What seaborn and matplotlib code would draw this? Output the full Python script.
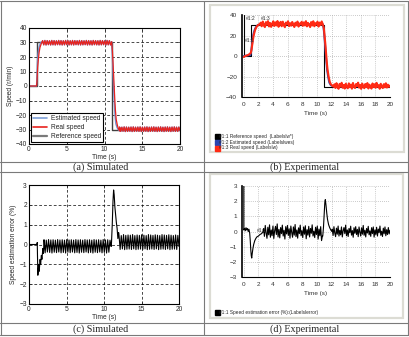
import numpy as np
import matplotlib.pyplot as plt
from matplotlib.lines import Line2D
import seaborn as sns

sns.set_style("white")
plt.rcParams['font.family'] = ['Liberation Sans', 'DejaVu Sans']

W, H = 409, 337

# ---------------- data ----------------
sim_xticks = [0, 5, 10, 15, 20]
sim_speed_ticks = [-40, -30, -20, -10, 0, 10, 20, 30, 40]
sim_err_ticks = [-3, -2, -1, 0, 1, 2, 3]
exp_xticks = [0, 2, 4, 6, 8, 10, 12, 14, 16, 18, 20]
exp_speed_ticks = [-40, -20, 0, 20, 40]
exp_err_ticks = [-3, -2, -1, 0, 1, 2, 3]

# (a) simulated speed
ref_sim_t = [0, 1, 1, 11, 11, 20]
ref_sim_v = [0, 0, 30, 30, -30, -30]
real_sim_rise_t = [0, 1.0, 1.05, 1.15, 1.25, 1.35, 1.45, 1.55, 1.65, 1.8]
real_sim_rise_v = [0, 0, 3, 13, 19, 23.5, 26.5, 28, 29.5, 31]
est_sim_rise_t = [0, 1.0, 1.04, 1.12, 1.2, 1.3, 1.4, 1.5, 1.62, 1.8]
est_sim_rise_v = [0, 0, 6, 16, 22, 26, 28, 29.3, 30.2, 31]
sim_ripple_top = [31.2, 28.4, 31.4, 28.3, 31.3, 28.5, 31.2, 28.3, 31.4, 28.4,
                  31.3, 28.3, 31.2, 28.5, 31.4, 28.4, 31.3, 28.3, 31.2, 28.4,
                  31.4, 28.5, 31.3, 28.3, 31.2, 28.4, 31.4, 28.3, 31.3, 28.5,
                  31.2, 28.4, 31.4, 28.3, 31.3, 28.4, 31.2, 28.5, 31.4, 28.3,
                  31.3, 28.4, 31.2, 28.3, 31.4, 28.5, 31.3, 28.4, 31.2, 28.3,
                  31.4, 28.4, 31.3, 28.5, 31.2, 28.3, 31.4, 28.4, 31.3, 28.3, 30.5]
real_sim_fall_t = [10.95, 11.05, 11.15, 11.25, 11.35, 11.45, 11.55, 11.7, 11.85, 12.0]
real_sim_fall_v = [30, 24, 14, 3, -8, -17, -23, -27, -29.5, -31]
est_sim_fall_t = [10.95, 11.03, 11.12, 11.2, 11.3, 11.4, 11.5, 11.65, 11.8, 12.0]
est_sim_fall_v = [30, 22, 10, 0, -12, -21, -26, -28.5, -30, -31]
sim_ripple_bot = [-28.3, -31.3, -28.4, -31.2, -28.2, -31.4, -28.3, -31.3, -28.4, -31.2,
                  -28.3, -31.4, -28.2, -31.3, -28.4, -31.2, -28.3, -31.3, -28.2, -31.4,
                  -28.4, -31.3, -28.3, -31.2, -28.2, -31.4, -28.4, -31.3, -28.3, -31.2,
                  -28.2, -31.3, -28.4, -31.4, -28.3, -31.2, -28.2, -31.3, -28.4, -31.4,
                  -28.3, -31.2, -28.2, -31.3, -28.4, -31.4, -28.3, -31.2, -28.2, -31.3,
                  -28.4, -31.3, -28.3, -30.8]

# (c) simulated estimation error
err_sim_start_t = [0, 1.05, 1.1, 1.18, 1.3, 1.36, 1.48, 1.55, 1.65, 1.72, 1.85, 1.92, 2.0]
err_sim_start_v = [0, 0, 0.1, -1.55, -1.0, -1.35, -0.75, -1.0, -0.55, -0.75, -0.2, -0.45, 0.1]
err_sim_ripple1 = [0.24, -0.42, 0.22, -0.38, 0.25, -0.4, 0.23, -0.43, 0.24, -0.39,
                   0.22, -0.41, 0.25, -0.38, 0.23, -0.42, 0.24, -0.4, 0.22, -0.43,
                   0.25, -0.39, 0.23, -0.41, 0.24, -0.38, 0.22, -0.42, 0.25, -0.4,
                   0.23, -0.43, 0.24, -0.39, 0.22, -0.41, 0.25, -0.38, 0.23, -0.42,
                   0.24, -0.4, 0.22, -0.43, 0.25, -0.39, 0.23, -0.41, 0.24, -0.38,
                   0.22, -0.42, 0.25, -0.4, 0.23, -0.43, 0.24, -0.39, 0.22, -0.1]
err_sim_peak_t = [11.0, 11.1, 11.2, 11.28, 11.36, 11.45, 11.55, 11.65, 11.75, 11.85, 11.95]
err_sim_peak_v = [0.1, 1.0, 2.2, 2.75, 2.5, 1.9, 1.5, 1.1, 0.8, 0.3, 0.6]
err_sim_ripple2 = [0.48, -0.25, 0.45, -0.22, 0.5, -0.26, 0.46, -0.24, 0.48, -0.23,
                   0.47, -0.25, 0.5, -0.22, 0.45, -0.26, 0.48, -0.24, 0.46, -0.23,
                   0.49, -0.25, 0.47, -0.22, 0.45, -0.26, 0.5, -0.24, 0.48, -0.23,
                   0.46, -0.25, 0.49, -0.22, 0.47, -0.26, 0.45, -0.24, 0.5, -0.23,
                   0.48, -0.25, 0.46, -0.22, 0.49, -0.26, 0.47, -0.24, 0.45, -0.23,
                   0.48, -0.25, 0.46, -0.1]

# (b) experimental speed
ref_exp_t = [0, 0, 1, 1, 11, 11, 20]
ref_exp_v = [40, 0, 0, 30, 30, -30, -30]
real_exp_rise_t = [0, 0.2, 0.4, 0.6, 0.8, 0.95, 1.05, 1.15, 1.25, 1.35, 1.45, 1.55, 1.7, 1.85, 2.0, 2.2]
real_exp_rise_v = [-1, 0, 0.5, 1, 2, 3, 6, 11, 16, 20, 23, 25.5, 28, 29.5, 30.5, 31]
real_exp_top = [32.5, 29.0, 33.6, 30.0, 28.2, 33.0, 30.5, 34.0, 28.8, 32.2,
                28.4, 31.6, 33.8, 29.3, 32.8, 29.9, 34.1, 28.5, 31.4, 33.3,
                29.0, 33.5, 30.2, 28.1, 32.6, 30.9, 33.9, 29.1, 32.0, 29.6,
                33.2, 30.6, 28.3, 32.5, 30.0, 33.6, 28.7, 31.7, 30.8, 33.4,
                29.4, 32.8, 29.9, 34.0, 28.9, 32.3, 30.4, 28.2, 33.1, 29.8,
                33.9, 29.0, 32.0, 30.7, 33.5, 28.7, 32.6, 30.2, 33.7, 31.0]
real_exp_fall_t = [10.85, 10.95, 11.05, 11.15, 11.25, 11.35, 11.45, 11.6, 11.75, 11.9, 12.1, 12.3]
real_exp_fall_v = [30, 27, 20, 12, 3, -6, -13, -20, -25, -27.5, -29, -30]
real_exp_bot = [-27.6, -31.2, -26.5, -30.3, -32.0, -27.2, -29.9, -26.1, -31.0, -28.3,
                -31.8, -27.0, -29.6, -31.5, -26.7, -30.4, -27.9, -31.9, -26.3, -30.0,
                -31.2, -27.4, -29.3, -26.0, -30.9, -28.2, -32.1, -26.9, -29.8, -31.4,
                -27.3, -30.3, -26.4, -31.7, -28.0, -29.5, -31.8, -26.8, -30.2, -27.6,
                -31.0, -26.2, -30.0, -28.5, -32.0, -27.1, -29.7, -31.3, -27.5, -30.5,
                -26.6, -30.8, -28.0, -30.1, -28.9]
est_exp_t = [0, 0.9, 1.0, 1.1, 1.2, 1.3, 1.45, 1.6, 1.8, 2.0, 2.3, 10.8,
             10.9, 11.0, 11.1, 11.2, 11.3, 11.4, 11.55, 11.7, 11.9, 12.2, 20]
est_exp_v = [0, 1, 4, 10, 16, 21, 25, 27.5, 29.5, 30.5, 31, 31,
             28, 21, 12, 3, -6, -14, -21, -26, -28.5, -29.5, -29.5]

# (d) experimental estimation error
err_exp_start_t = [0, 0, 0.1, 0.2, 0.3, 0.4, 0.5, 0.6, 0.7, 0.8, 0.88, 0.95, 1.02, 1.08,
                   1.15, 1.25, 1.35, 1.5, 1.65, 1.8, 2.0, 2.2, 2.4, 2.6]
err_exp_start_v = [3, 0.1, 0.2, 0.05, 0.25, 0.1, 0.2, 0.0, 0.15, -0.1, -0.6, -1.2, -1.6, -1.75,
                   -1.45, -1.1, -0.85, -0.6, -0.45, -0.35, -0.3, -0.2, -0.15, -0.05]
err_exp_noise1 = [0.2, -0.32, 0.4, -0.1, -0.45, 0.28, -0.22, 0.44, -0.38, 0.1,
                  -0.28, 0.36, -0.46, 0.05, 0.34, -0.2, 0.5, -0.36, 0.14, -0.42,
                  0.26, -0.14, 0.42, -0.3, 0.08, -0.5, 0.32, -0.16, 0.4, -0.26,
                  0.18, -0.44, 0.36, -0.06, -0.38, 0.3, -0.24, 0.46, -0.34, 0.1,
                  -0.44, 0.24, -0.14, 0.42, -0.28, 0.06, -0.4, 0.3, -0.18, 0.38,
                  -0.48, 0.12, -0.24, 0.34, -0.36, 0.2, -0.12, 0.44, -0.3, 0.02,
                  -0.4, 0.28, -0.2, 0.36, -0.5, 0.16, -0.28, 0.32, -0.6, -0.3]
err_exp_peak_t = [10.8, 10.9, 11.0, 11.08, 11.15, 11.25, 11.35, 11.45, 11.6, 11.75, 11.9, 12.05]
err_exp_peak_v = [-0.3, 0.3, 1.2, 1.9, 2.1, 1.7, 1.2, 0.8, 0.45, 0.25, 0.1, 0.0]
err_exp_noise2 = [0.16, -0.26, 0.32, -0.1, -0.34, 0.22, -0.18, 0.36, -0.3, 0.08,
                  -0.22, 0.3, -0.36, 0.05, 0.26, -0.14, 0.42, -0.28, 0.1, -0.33,
                  0.2, -0.08, 0.35, -0.24, 0.06, -0.38, 0.25, -0.12, 0.32, -0.2,
                  0.14, -0.34, 0.3, -0.04, -0.3, 0.24, -0.18, 0.4, -0.25, 0.08,
                  -0.36, 0.2, -0.1, 0.34, -0.22, 0.04, -0.32, 0.25, -0.14, 0.3,
                  -0.37, 0.1, -0.2, 0.28, -0.3, 0.16, -0.08, 0.36, -0.25, 0.02,
                  -0.33, 0.22, -0.15, 0.3, -0.28, 0.12, -0.2, 0.26, -0.16, 0.08]

exp_speed_labels = ['#1:1 Reference speed  (Labelslw*)',
                    '#1:2 Estimated speed (Labelslwes)',
                    '#1:3 Real speed (Labelslw)']
exp_err_label = '#1:1 Speed estimation error (%):(Labelslerror)'


def seg(t0, t1, vals):
    # sample times for a read-off series between t0 and t1
    return list(np.linspace(t0, t1, len(vals)))


def rect(x0, y0, x1, y1):
    return [x0 / W, 1 - y1 / H, (x1 - x0) / W, (y1 - y0) / H]


def line(ax, t, v, **kw):
    sns.lineplot(x=np.asarray(t, float), y=np.asarray(v, float), ax=ax,
                 estimator=None, sort=False, legend=False, **kw)


fig = plt.figure(figsize=(W / 100, H / 100), dpi=100)

# ---------------- table frame ----------------
tc = '#7a7a7a'
for y in [1, 161.5, 172, 323, 335]:
    fig.add_artist(Line2D([0, 408 / W], [1 - y / H, 1 - y / H], color=tc, lw=0.8,
                          transform=fig.transFigure))
for x in [0.5, 204, 408]:
    fig.add_artist(Line2D([x / W, x / W], [1 - 1 / H, 1 - 335 / H], color=tc, lw=0.8,
                          transform=fig.transFigure))
cap_kw = dict(ha='center', va='center', fontsize=7.3, family=['Liberation Serif'])
fig.text(101 / W, 1 - 167 / H, '(a) Simulated', **cap_kw)
fig.text(305 / W, 1 - 167 / H, '(b) Experimental', **cap_kw)
fig.text(101 / W, 1 - 329 / H, '(c) Simulated', **cap_kw)
fig.text(305 / W, 1 - 329 / H, '(d) Experimental', **cap_kw)

# experimental panels: light frame boxes, drawn behind the axes
for (x0, y0, x1, y1) in [(210, 5, 404, 152), (210, 174, 403, 318)]:
    fig.add_artist(plt.Rectangle((x0 / W, 1 - y1 / H), (x1 - x0) / W, (y1 - y0) / H,
                                 transform=fig.transFigure, facecolor='white',
                                 edgecolor='#dcdcd4', lw=1.6, zorder=-5))


def style_sim(ax, yticks):
    ax.set_xlim(0, 20)
    ax.set_xticks(sim_xticks)
    ax.set_yticks(yticks)
    ax.set_ylim(yticks[0], yticks[-1])
    ax.grid(True, color='k', lw=0.5, ls=(0, (4, 3)))
    for s in ax.spines.values():
        s.set_color('k')
        s.set_linewidth(0.8)
    ax.tick_params(direction='in', length=2, width=0.5, labelsize=4.8, pad=1.5,
                   top=True, right=True, bottom=True, left=True)
    ax.set_xlabel('Time (s)', fontsize=4.8, labelpad=1)


def style_exp(ax, yticks):
    ax.set_xlim(-0.25, 20)
    ax.set_xticks(exp_xticks)
    ax.set_xticks(np.arange(0, 20.01, 0.5), minor=True)
    ax.set_yticks(yticks)
    ax.set_ylim(yticks[0], yticks[-1])
    ax.grid(True, color='#9a9a9a', lw=0.5, ls=(0, (1, 2)))
    ax.spines['top'].set_visible(False)
    ax.spines['right'].set_visible(False)
    ax.spines['left'].set_color('k')
    ax.spines['bottom'].set_color('k')
    ax.spines['left'].set_linewidth(1.2)
    ax.spines['bottom'].set_linewidth(0.8)
    ax.tick_params(which='major', direction='inout', length=3, width=0.5,
                   labelsize=4.6, pad=2, colors='k', labelcolor='#333333')
    ax.tick_params(which='minor', direction='inout', length=1.5, width=0.4)
    ax.set_xlabel('Time (s)', fontsize=4.6, labelpad=3, color='#333333')


# ---------------- (a) ----------------
ax_a = fig.add_axes(rect(29, 28, 180, 144))
est_a_t = est_sim_rise_t + seg(1.8, 10.95, sim_ripple_top) + est_sim_fall_t + seg(12.0, 20, sim_ripple_bot)
est_a_v = est_sim_rise_v + sim_ripple_top + est_sim_fall_v + sim_ripple_bot
real_a_t = real_sim_rise_t + seg(1.8, 10.95, sim_ripple_top) + real_sim_fall_t + seg(12.0, 20, sim_ripple_bot)
real_a_v = real_sim_rise_v + sim_ripple_top + real_sim_fall_v + sim_ripple_bot
line(ax_a, ref_sim_t, ref_sim_v, color='#404040', lw=1.0)
line(ax_a, est_a_t, est_a_v, color='#6f93d6', lw=1.0)
line(ax_a, real_a_t, real_a_v, color='#e8231e', lw=0.9)
style_sim(ax_a, sim_speed_ticks)
ax_a.set_ylabel('Speed (r/min)', fontsize=4.8, labelpad=1)
handles = [Line2D([], [], color='#7ea0d8', lw=1.2), Line2D([], [], color='#e8231e', lw=1.2),
           Line2D([], [], color='#7a7a7a', lw=1.6)]
leg = ax_a.legend(handles, ['Estimated speed', 'Real speed', 'Reference speed'],
                  loc='lower left', bbox_to_anchor=(0.01, 0.015), fontsize=4.8,
                  frameon=True, fancybox=False, framealpha=1, edgecolor='k',
                  handlelength=2.2, handletextpad=0.5, labelspacing=0.3,
                  borderpad=0.3, borderaxespad=0)
leg.get_frame().set_linewidth(0.8)

# ---------------- (c) ----------------
ax_c = fig.add_axes(rect(29, 185, 179, 304))
err_c_t = err_sim_start_t + seg(2.0, 10.95, err_sim_ripple1) + err_sim_peak_t + seg(12.0, 20, err_sim_ripple2)
err_c_v = err_sim_start_v + err_sim_ripple1 + err_sim_peak_v + err_sim_ripple2
line(ax_c, err_c_t, err_c_v, color='k', lw=0.8)
style_sim(ax_c, sim_err_ticks)
ax_c.set_ylabel('Speed estimation error (%)', fontsize=4.8, labelpad=2)

# ---------------- (b) ----------------
ax_b = fig.add_axes(rect(242, 15, 390, 97))
ax_b.patch.set_alpha(0)
real_b_t = real_exp_rise_t + seg(2.3, 10.8, real_exp_top) + real_exp_fall_t + seg(12.4, 20, real_exp_bot)
real_b_v = real_exp_rise_v + real_exp_top + real_exp_fall_v + real_exp_bot
line(ax_b, ref_exp_t, ref_exp_v, color='k', lw=0.8)
line(ax_b, est_exp_t, est_exp_v, color='#2b45b0', lw=1.4)
line(ax_b, real_b_t, real_b_v, color='#ff2a14', lw=1.5)
style_exp(ax_b, exp_speed_ticks)
ax_b.text(0.25, 37, '#1:2', fontsize=3.6, color='#333333', va='center')
ax_b.text(2.4, 37, '#1:3', fontsize=3.6, color='#333333', va='center')
ax_b.text(0.2, 15, '#1:1', fontsize=3.6, color='#333333', va='center')
leg_b = [Line2D([], [], ls='none', marker='s', markersize=3.6, color=c)
         for c in ['k', '#2b45b0', '#ff2a14']]
ax_b.legend(leg_b, exp_speed_labels, loc='upper left',
            bbox_to_anchor=(215 / W, 1 - 134 / H), bbox_transform=fig.transFigure,
            fontsize=3.4, frameon=False, handlelength=0.8, handletextpad=0.1,
            labelspacing=0.15, borderpad=0, borderaxespad=0)

# ---------------- (d) ----------------
ax_d = fig.add_axes(rect(242, 186, 390, 277))
ax_d.patch.set_alpha(0)
err_d_t = err_exp_start_t + seg(2.7, 10.75, err_exp_noise1) + err_exp_peak_t + seg(12.1, 20, err_exp_noise2)
err_d_v = err_exp_start_v + err_exp_noise1 + err_exp_peak_v + err_exp_noise2
line(ax_d, err_d_t, err_d_v, color='k', lw=0.8)
style_exp(ax_d, exp_err_ticks)
ax_d.text(1.75, 0.05, '#1:1', fontsize=3.6, color='#333333', va='center')
ax_d.legend([Line2D([], [], ls='none', marker='s', markersize=3.6, color='k')],
            [exp_err_label], loc='upper left',
            bbox_to_anchor=(215 / W, 1 - 310 / H), bbox_transform=fig.transFigure,
            fontsize=3.4, frameon=False, handlelength=0.8, handletextpad=0.1,
            borderpad=0, borderaxespad=0)

fig.savefig('out.png', dpi=100)
